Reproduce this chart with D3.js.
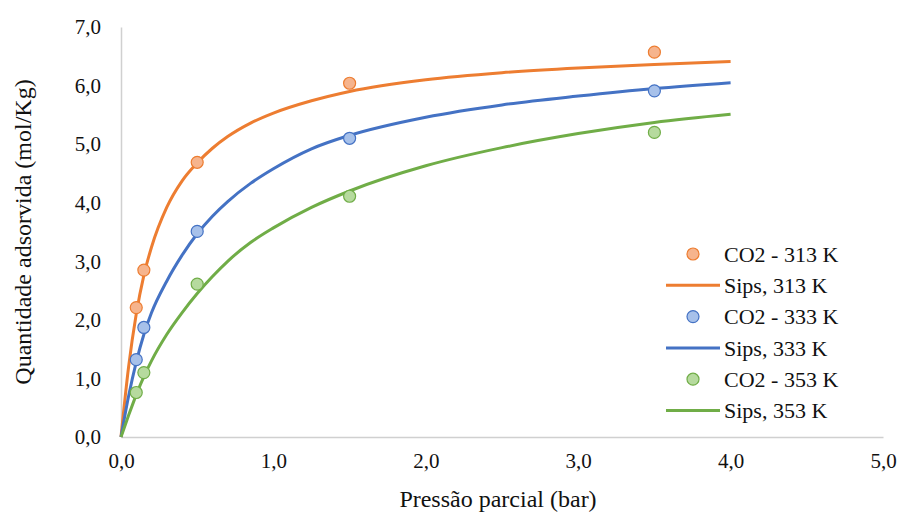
<!DOCTYPE html>
<html>
<head>
<meta charset="utf-8">
<script src="https://cdn.jsdelivr.net/npm/d3@7"></script>
<style>
  body { margin: 0; background: #fff; }
</style>
</head>
<body>
<div id="chart"></div>
<script>
// measured points (pressure in bar, uptake in mol/Kg)
const pressure = [0.1, 0.15, 0.5, 1.5, 3.5];
const co2_313 = [2.21, 2.85, 4.69, 6.04, 6.57];
const co2_333 = [1.32, 1.87, 3.51, 5.10, 5.91];
const co2_353 = [0.76, 1.10, 2.61, 4.11, 5.20];

// Sips curves
const sipsP = [0, 0.05, 0.1, 0.15, 0.2, 0.3, 0.4, 0.5, 0.6, 0.7, 0.85, 1.0, 1.25, 1.5, 2.0, 2.5, 3.0, 3.5, 4.0];
const sips313 = [0, 1.2, 2.1, 2.76, 3.24, 3.92, 4.37, 4.68, 4.93, 5.13, 5.36, 5.53, 5.74, 5.9, 6.1, 6.22, 6.3, 6.36, 6.41];
const sips333 = [0, 0.7, 1.28, 1.75, 2.12, 2.66, 3.1, 3.47, 3.77, 4.02, 4.33, 4.58, 4.92, 5.15, 5.46, 5.67, 5.82, 5.95, 6.05];
const sips353 = [0, 0.37, 0.72, 1.03, 1.3, 1.75, 2.12, 2.45, 2.74, 3.0, 3.32, 3.57, 3.92, 4.2, 4.63, 4.94, 5.18, 5.37, 5.51];

const xTicks = [0, 1, 2, 3, 4, 5];
const yTicks = [0, 1, 2, 3, 4, 5, 6, 7];

const series = [
  {label: '313 K', pts: co2_313, fit: sips313, line: '#ED7D31', fill: '#F6B48D'},
  {label: '333 K', pts: co2_333, fit: sips333, line: '#4472C4', fill: '#A7C1EA'},
  {label: '353 K', pts: co2_353, fit: sips353, line: '#70AD47', fill: '#B6DA9E'}
];

const font = "'Liberation Serif'";
const width = 903, height = 516;
const svg = d3.select('#chart')
  .append('svg')
  .attr('width', width)
  .attr('height', height);

const x = d3.scaleLinear().domain([0, 5]).range([121, 883]);
const y = d3.scaleLinear().domain([0, 7]).range([437, 27]);
const fmt = d => d3.format('.1f')(d).replace('.', ',');

const xAxis = g => g
  .attr('transform', `translate(0, ${y(0)})`)
  .call(d3.axisBottom(x).tickValues(xTicks).tickSize(0).tickPadding(16).tickFormat(fmt))
  .call(g => g.select('.domain').attr('stroke', '#d0d0d0').attr('stroke-width', 1.5));
const yAxis = g => g
  .attr('transform', `translate(${x(0)}, 0)`)
  .call(d3.axisLeft(y).tickValues(yTicks).tickSize(0).tickPadding(20).tickFormat(fmt))
  .call(g => g.select('.domain').attr('stroke', '#d0d0d0').attr('stroke-width', 1.5));

svg.append('g').call(xAxis)
  .selectAll('text')
  .attr('font-family', font).attr('font-size', 21).attr('fill', '#111');
svg.append('g').call(yAxis)
  .selectAll('text')
  .attr('font-family', font).attr('font-size', 21).attr('fill', '#111');

svg.append('text')
  .attr('x', (x(0) + x(5)) / 2 - 4)
  .attr('y', 507)
  .attr('text-anchor', 'middle')
  .attr('font-family', font)
  .attr('font-size', 24)
  .attr('fill', '#111')
  .text('Pressão parcial (bar)');
svg.append('text')
  .attr('transform', `translate(31, ${(y(0) + y(7)) / 2}) rotate(-90)`)
  .attr('text-anchor', 'middle')
  .attr('font-family', font)
  .attr('font-size', 24)
  .attr('fill', '#111')
  .text('Quantidade adsorvida (mol/Kg)');

const line = d3.line()
  .x((d, i) => x(sipsP[i]))
  .y(d => y(d))
  .curve(d3.curveMonotoneX);

series.forEach(s => {
  svg.append('path')
    .datum(s.fit)
    .attr('d', line)
    .attr('fill', 'none')
    .attr('stroke', s.line)
    .attr('stroke-width', 3);
});

series.forEach(s => {
  svg.append('g')
    .selectAll('circle')
    .data(s.pts)
    .join('circle')
    .attr('cx', (d, i) => x(pressure[i]))
    .attr('cy', d => y(d))
    .attr('r', 6)
    .attr('fill', s.fill)
    .attr('stroke', s.line)
    .attr('stroke-width', 1.2);
});

// legend
const legend = svg.append('g').attr('transform', 'translate(666, 254)');
series.forEach((s, i) => {
  const g = legend.append('g').attr('transform', `translate(0, ${i * 62.6})`);
  g.append('circle')
    .attr('cx', 27).attr('cy', 0).attr('r', 6)
    .attr('fill', s.fill).attr('stroke', s.line).attr('stroke-width', 1.2);
  g.append('text')
    .attr('x', 58).attr('y', 0).attr('dy', '0.35em')
    .attr('font-family', font)
    .attr('font-size', 22).attr('fill', '#111')
    .text(`CO2 - ${s.label}`);
  g.append('line')
    .attr('x1', 0).attr('x2', 54)
    .attr('y1', 31.3).attr('y2', 31.3)
    .attr('stroke', s.line).attr('stroke-width', 3);
  g.append('text')
    .attr('x', 58).attr('y', 31.3).attr('dy', '0.35em')
    .attr('font-family', font)
    .attr('font-size', 22).attr('fill', '#111')
    .text(`Sips, ${s.label}`);
});
</script>
</body>
</html>
